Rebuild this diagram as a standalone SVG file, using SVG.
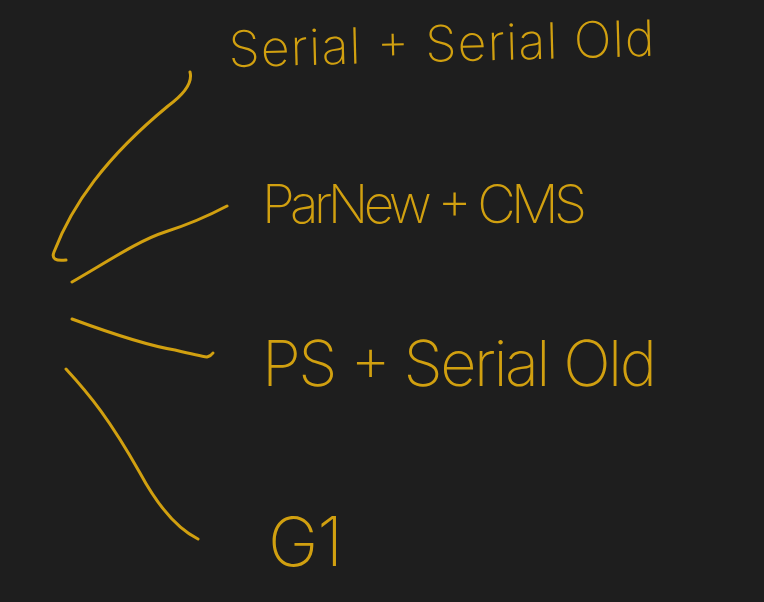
<svg xmlns="http://www.w3.org/2000/svg" width="764" height="602" viewBox="0 0 764 602">
<style>
.bg{fill:#1e1e1e}
.ln{fill:none;stroke:#d1a010;stroke-width:3;stroke-linecap:round;stroke-linejoin:round}
.t{fill:#d1a010;font-family:Inter,"DejaVu Sans",sans-serif;font-weight:200}
</style>
<rect class="bg" x="0" y="0" width="764" height="602"/>
<g id="connectors">
<path class="ln" d="M66,260 Q50,262 54,252 C72,205 105,158 168,106 Q194,87 190,72"/>
<path class="ln" d="M72,282 C110,260 140,240 165,232 S210,215 227,206"/>
<path class="ln" d="M72,319 C110,333 150,346 175,350 Q200,356 207,357 Q211,356 213,353"/>
<path class="ln" d="M66,369 C90,395 110,420 140,473 C160,510 180,530 198,539"/>
</g>
<g id="node-serial">
<text class="t" x="229" y="67" font-size="50" textLength="426" transform="rotate(-1.5 229 67)">Serial + Serial Old</text>
</g>
<g id="node-parnew">
<text class="t" x="262" y="223" font-size="53" textLength="325">ParNew + CMS</text>
</g>
<g id="node-ps">
<text class="t" x="262" y="386" font-size="63" textLength="395">PS + Serial Old</text>
</g>
<g id="node-g1">
<text class="t" x="268" y="566" font-size="68" textLength="75">G1</text>
</g>
</svg>
